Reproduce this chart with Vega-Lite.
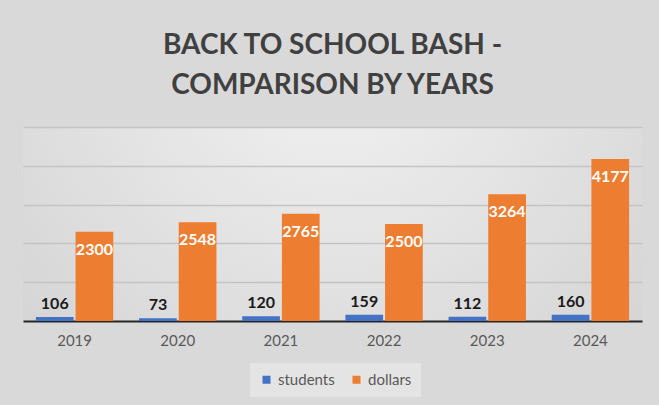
{
  "$schema": "https://vega.github.io/schema/vega-lite/v6.json",
  "width": 619,
  "height": 194,
  "autosize": {"type": "none"},
  "padding": {"left": 23, "top": 127, "right": 17, "bottom": 84},
  "background": "#d9d9d9",
  "title": {
    "text": ["BACK TO SCHOOL BASH -", "COMPARISON BY YEARS"],
    "font": "Lato",
    "fontSize": 28,
    "fontWeight": "bold",
    "color": "#404040",
    "lineHeight": 40,
    "anchor": "middle",
    "offset": 27
  },
  "data": {
    "values": [
      {"year": "2019", "series": "students", "value": 106},
      {"year": "2019", "series": "dollars", "value": 2300},
      {"year": "2020", "series": "students", "value": 73},
      {"year": "2020", "series": "dollars", "value": 2548},
      {"year": "2021", "series": "students", "value": 120},
      {"year": "2021", "series": "dollars", "value": 2765},
      {"year": "2022", "series": "students", "value": 159},
      {"year": "2022", "series": "dollars", "value": 2500},
      {"year": "2023", "series": "students", "value": 112},
      {"year": "2023", "series": "dollars", "value": 3264},
      {"year": "2024", "series": "students", "value": 160},
      {"year": "2024", "series": "dollars", "value": 4177}
    ]
  },
  "encoding": {
    "x": {
      "field": "year",
      "type": "nominal",
      "title": null,
      "scale": {"paddingInner": 0.25, "paddingOuter": 0.125},
      "axis": {
        "labelAngle": 0,
        "labelFont": "Lato",
        "labelFontSize": 15,
        "labelColor": "#595959",
        "labelPadding": 12,
        "ticks": false,
        "domainColor": "#262626",
        "domainWidth": 2
      }
    },
    "xOffset": {
      "field": "series",
      "sort": ["students", "dollars"],
      "scale": {"paddingInner": 0.05}
    },
    "y": {
      "field": "value",
      "type": "quantitative",
      "title": null,
      "scale": {"domain": [0, 5000]},
      "axis": {
        "values": [1000, 2000, 3000, 4000, 5000],
        "labels": false,
        "ticks": false,
        "domain": false,
        "grid": true,
        "gridColor": "#c4c4c4",
        "gridWidth": 1.5
      }
    }
  },
  "layer": [
    {
      "mark": {"type": "bar"},
      "encoding": {
        "color": {
          "field": "series",
          "type": "nominal",
          "sort": ["students", "dollars"],
          "scale": {"domain": ["students", "dollars"], "range": ["#4472C4", "#ED7D31"]},
          "legend": {
            "title": null,
            "orient": "none",
            "legendX": 227,
            "legendY": 236,
            "direction": "horizontal",
            "symbolType": "square",
            "symbolSize": 64,
            "labelFont": "Lato",
            "labelFontSize": 15,
            "labelColor": "#595959",
            "columnPadding": 14,
            "padding": 9,
            "fillColor": "#e4e4e4"
          }
        }
      }
    },
    {
      "transform": [{"filter": "datum.series === 'students'"}],
      "mark": {"type": "text", "baseline": "alphabetic", "dy": -8, "font": "Lato", "fontSize": 16, "fontWeight": "bold", "color": "#1a1a1a"},
      "encoding": {"text": {"field": "value", "type": "quantitative"}}
    },
    {
      "transform": [{"filter": "datum.series === 'dollars'"}],
      "mark": {"type": "text", "baseline": "middle", "dy": 18, "font": "Lato", "fontSize": 16, "fontWeight": "bold", "color": "#ffffff"},
      "encoding": {"text": {"field": "value", "type": "quantitative", "format": "d"}}
    }
  ],
  "config": {
    "view": {
      "stroke": null,
      "fill": {
        "gradient": "radial",
        "x1": 0.5, "y1": 0.2, "r1": 0,
        "x2": 0.5, "y2": 0.2, "r2": 0.75,
        "stops": [{"offset": 0, "color": "#f3f3f3"}, {"offset": 1, "color": "#d2d2d2"}]
      }
    }
  }
}
